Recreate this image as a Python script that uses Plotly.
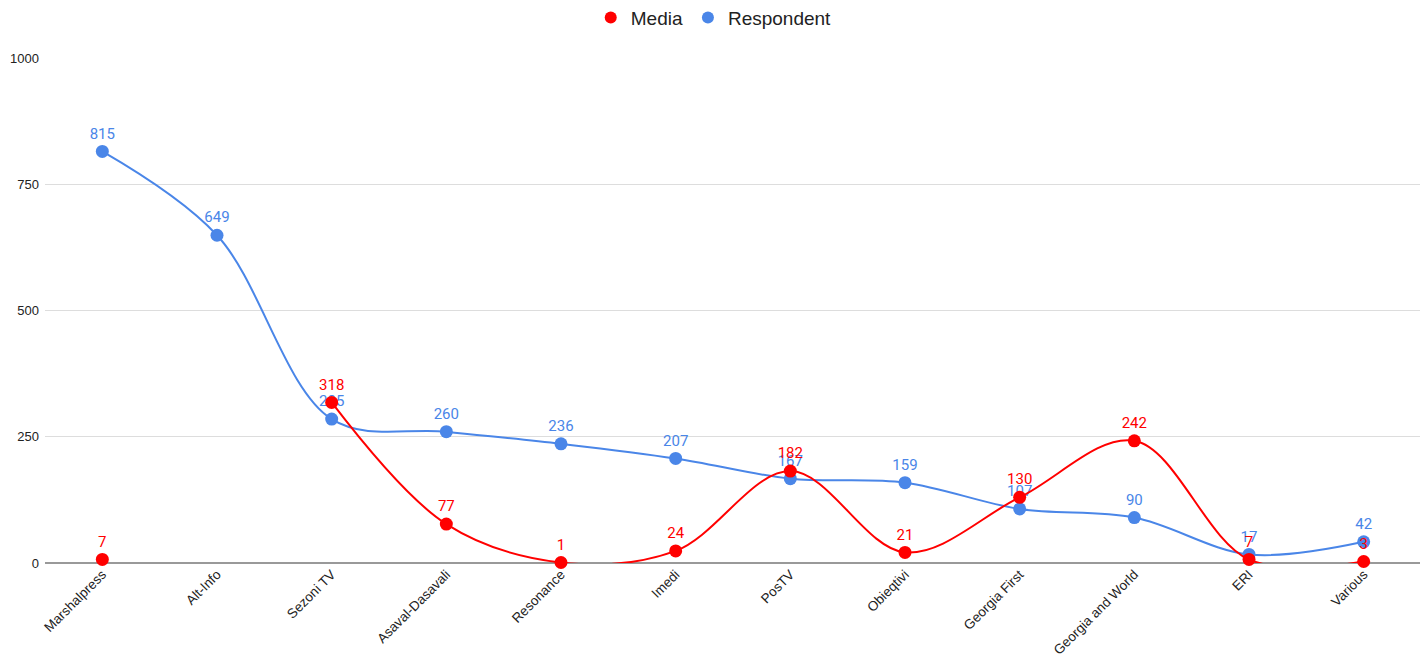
import plotly.graph_objects as go

categories = ["Marshalpress", "Alt-Info", "Sezoni TV", "Asaval-Dasavali", "Resonance",
              "Imedi", "PosTV", "Obieqtivi", "Georgia First", "Georgia and World", "ERI", "Various"]
media = [7, None, 318, 77, 1, 24, 182, 21, 130, 242, 7, 3]
respondent = [815, 649, 285, 260, 236, 207, 167, 159, 107, 90, 17, 42]
y_ticks = [0, 250, 500, 750, 1000]

RED = "#ff0000"
BLUE = "#4a86e8"

fig = go.Figure()

def add_series(name, values, color, rank):
    fig.add_trace(go.Scatter(
        x=categories, y=values, name=name, mode="lines+markers+text",
        line=dict(color=color, width=2, shape="spline", smoothing=1.0),
        marker=dict(color=color, size=13),
        text=[None if v is None else str(v) for v in values],
        textposition="top center",
        textfont=dict(color=color, size=15, family="Roboto, Arial"),
        cliponaxis=False, connectgaps=False, showlegend=False,
    ))
    fig.add_trace(go.Scatter(
        x=[None], y=[None], name=name, mode="markers",
        marker=dict(color=color, size=13), showlegend=True, legendrank=rank,
    ))

add_series("Respondent", respondent, BLUE, 2)
add_series("Media", media, RED, 1)

fig.update_layout(
    width=1420, height=650,
    margin=dict(l=37, r=7, t=50, b=95, autoexpand=False),
    paper_bgcolor="white", plot_bgcolor="white",
    font=dict(family="Liberation Sans, Arial", color="#222"),
    legend=dict(orientation="h", xref="container", x=0.497, xanchor="center",
                yref="container", y=0.985, yanchor="middle",
                font=dict(size=19, color="#222"), itemsizing="constant",
                traceorder="normal"),
    xaxis=dict(type="category", range=[-0.5, 11.5], tickangle=-45,
               tickfont=dict(size=13.5, color="#222"), showgrid=False,
               showline=False, ticks="", automargin=False),
    yaxis=dict(range=[0, 1000], tickvals=y_ticks, ticktext=[str(t) for t in y_ticks],
               tickfont=dict(size=13, color="#222"), gridcolor="#dddddd", gridwidth=1,
               zeroline=True, zerolinecolor="#999999", zerolinewidth=2, ticks="",
               showline=False, automargin=False, ticklabelstandoff=5),
)

fig.write_html("out.html")
